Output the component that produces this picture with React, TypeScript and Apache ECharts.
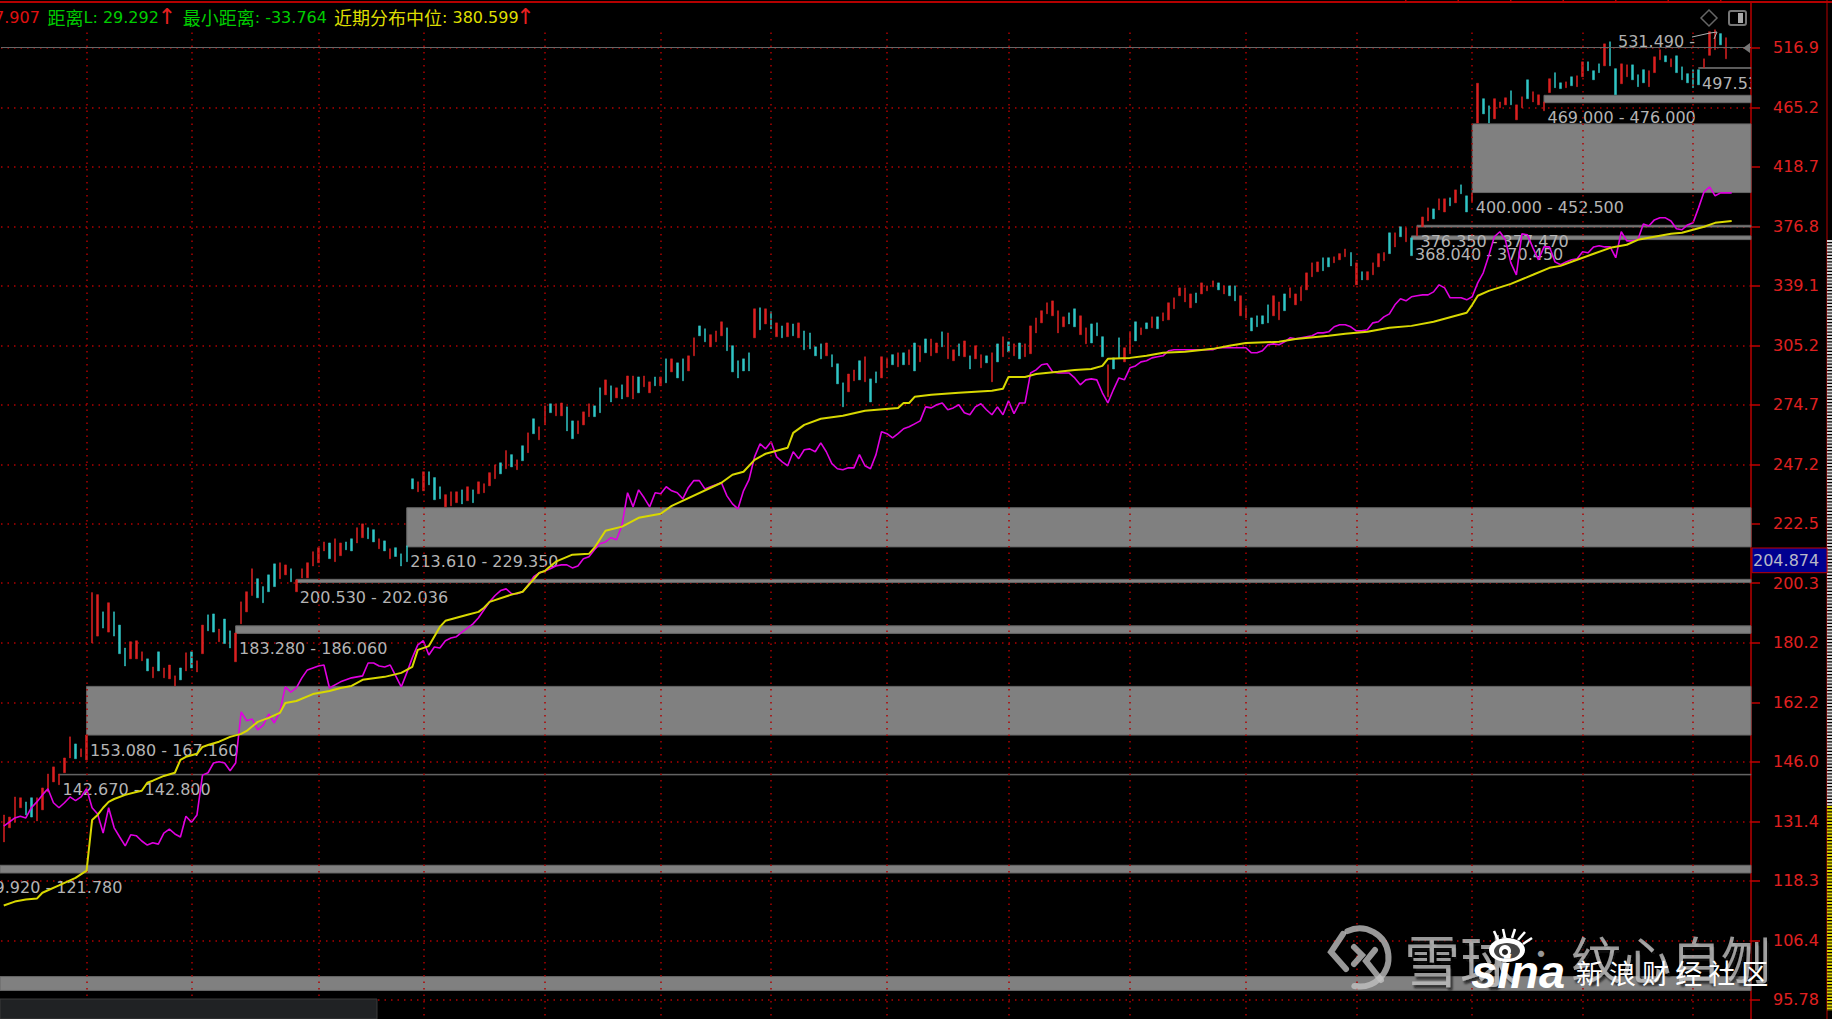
import React, { useEffect, useRef } from "react";
import * as echarts from "echarts";

const yTickLabels = ["516.9","465.2","418.7","376.8","339.1","305.2","274.7","247.2","222.5","200.3","180.2","162.2","146.0","131.4","118.3","106.4","95.78"];
const yTickValues = yTickLabels.map(Number);
const verticalGridIndexes = [15,34,57,76,98,119,139,160,182,204,225,245,266,286,306];
const categories = Array.from({ length: 317 }, (_, i) => String(i));

const candleHigh = [
132.9,132.4,137.2,137.0,136.0,137.0,137.0,139.4,142.9,144.7,
142.9,147.0,152.6,150.7,149.4,153.1,197.0,196.3,190.4,193.5,
190.4,186.0,178.6,180.6,180.9,177.4,175.2,172.7,177.4,172.4,
173.3,170.0,172.4,177.1,177.4,174.6,186.0,189.4,189.7,184.7,
188.0,184.1,183.4,193.8,197.3,205.5,201.9,199.1,203.3,207.3,
207.7,206.9,205.5,201.5,205.5,207.7,211.8,213.3,215.5,215.1,
216.7,215.1,215.5,216.7,221.0,222.5,221.0,220.2,216.7,215.9,
212.9,213.3,211.0,214.0,241.0,239.7,244.0,244.0,241.5,237.6,
234.3,235.5,235.5,236.3,237.6,236.3,239.7,238.9,243.6,247.0,
247.9,253.3,251.5,249.2,255.5,261.4,268.0,264.2,274.2,275.2,
275.2,275.6,273.7,267.0,267.0,271.3,275.2,274.2,283.1,287.1,
284.1,283.1,284.6,289.1,289.1,288.6,289.1,286.1,288.6,288.6,
298.0,298.0,295.9,298.0,299.6,309.3,315.9,314.3,311.0,313.1,
318.2,314.8,305.0,297.0,298.0,301.2,325.6,326.2,325.6,323.9,
317.6,315.9,317.6,317.0,317.6,313.1,312.0,304.4,306.0,306.5,
300.2,295.4,285.6,290.1,292.2,297.0,299.1,287.6,291.2,299.1,
298.0,300.2,301.2,301.2,302.8,306.5,305.0,308.7,308.7,306.5,
312.6,312.0,302.8,306.0,307.6,299.6,305.0,300.2,299.6,301.2,
306.0,309.9,307.1,306.0,306.5,306.0,315.9,320.4,324.5,329.1,
330.2,324.5,321.0,323.3,325.6,321.6,314.8,317.0,317.6,309.9,
294.9,298.5,309.3,303.9,312.6,318.2,314.8,317.6,321.0,321.0,
323.3,329.1,332.0,337.9,337.9,334.3,334.9,340.9,339.1,342.1,
340.9,339.1,339.1,339.1,333.2,326.2,320.4,321.6,321.6,327.9,
333.2,329.6,334.3,337.9,334.3,338.5,347.0,353.2,353.8,356.4,
356.4,357.0,359.0,362.0,359.7,353.2,347.7,347.7,353.2,359.0,
359.7,372.5,372.5,376.5,375.8,369.2,376.5,383.1,389.3,388.6,
395.6,395.6,396.3,401.9,405.5,397.7,399.8,485.4,472.3,466.4,
472.3,469.6,473.1,479.0,467.2,473.9,488.4,478.2,475.6,469.6,
489.3,494.6,485.8,486.6,491.0,491.9,504.2,504.2,496.3,502.4,
520.5,522.4,498.1,502.4,501.5,501.5,492.8,497.2,496.3,508.7,
515.1,509.6,506.9,509.6,499.7,493.7,497.2,497.2,506.9,531.8,
533.6,530.0,526.2,517.2];

const candleLow = [
126.7,129.9,131.2,134.6,132.9,132.4,131.5,134.1,138.4,140.9,
140.2,143.2,147.0,146.8,147.3,146.5,180.2,182.4,185.0,183.7,
182.4,176.8,173.0,175.2,175.2,174.6,171.5,169.4,171.5,169.4,
169.1,167.0,168.8,171.5,172.4,171.2,176.8,184.1,183.7,180.6,
180.0,178.6,174.3,186.4,190.4,196.0,195.2,193.5,197.3,199.1,
201.9,203.3,200.8,197.3,202.2,202.2,206.5,207.7,212.1,209.2,
208.1,210.3,212.5,212.1,215.1,217.1,216.7,215.5,212.9,212.1,
209.2,210.0,206.5,208.1,236.7,235.5,235.9,238.4,232.2,232.6,
229.3,229.7,231.0,230.5,231.8,231.0,234.7,235.1,238.0,241.0,
243.1,245.3,246.1,244.9,248.8,252.4,261.0,258.2,265.1,270.9,
269.4,269.4,262.3,258.7,261.0,265.1,269.0,269.0,270.9,279.6,
276.1,278.1,277.6,278.6,277.6,280.6,283.6,280.6,284.1,284.1,
285.6,291.2,288.1,286.6,291.7,299.6,310.4,307.1,304.4,307.1,
310.4,302.3,291.2,288.1,291.7,291.7,309.3,313.7,317.0,314.3,
309.9,309.3,309.9,310.4,309.3,302.8,303.3,299.6,298.0,299.6,
293.8,285.1,273.7,281.1,286.6,287.1,286.1,276.1,285.6,288.1,
293.3,294.9,293.8,294.9,294.9,291.7,296.4,301.2,299.6,301.2,
304.4,298.0,297.0,299.6,299.1,292.7,298.0,293.3,295.9,286.1,
296.4,299.1,301.7,299.6,298.0,299.1,300.7,312.0,317.6,322.7,
321.6,312.0,315.4,317.0,315.4,311.0,306.0,306.5,310.4,299.1,
278.6,292.7,298.5,296.4,300.7,307.6,311.0,314.3,314.8,314.3,
318.7,319.3,325.6,333.2,329.6,326.2,329.1,334.3,336.1,338.5,
336.7,334.3,333.2,330.2,321.6,320.4,313.1,315.4,317.0,317.6,
321.6,319.3,324.5,332.0,327.9,330.2,336.7,344.6,347.7,348.3,
350.7,353.2,355.1,357.0,351.3,339.7,342.7,342.7,345.8,350.7,
354.5,359.0,363.3,369.9,366.6,357.7,370.5,376.5,380.4,381.8,
387.9,386.5,390.7,392.8,399.1,386.5,393.5,452.4,459.8,452.4,
455.8,464.8,467.2,467.2,455.0,464.8,472.3,469.6,467.2,462.3,
477.4,481.6,480.8,481.6,483.3,482.5,491.0,496.3,488.4,494.6,
500.6,500.6,475.6,485.0,491.0,488.4,482.5,485.8,482.5,494.6,
506.0,504.2,499.7,494.6,488.4,485.8,481.6,484.1,499.0,510.0,
515.1,519.6,506.9,516.6];

const candleDirection = [
"rrrrccrrrr","rrrcrrrrcr","cccrrrcrcr","rrcrcrrccr",
"ccrrrrcccc","rrcrrrrrrc","rrccrrccrc","rccccrrccc",
"rrrcrcrrrr","crcrcrcrrc","rrccrrrccr","crcrrcrrcr",
"crccrrccrr","rcccccrcrc","rcrcrccccr","cccrrcrccr",
"rcrcrcrcrr","crrcrcrrcr","crcrcrrrrr","rrrccrrccc",
"rccrrcrcrc","rrrrrrcrrr","crccrrcccc","rrcrrrrrrc",
"crrrcrcrrr","rcrcrcrrrc","rrcrccrrcc","rrrcrrcrrr",
"rccrcrrccc","rccrrcccrr","rcrcccccrr","rcrc",
];

const magentaLine = [
130.3,131.2,132.2,132.6,132.2,134.6,136.0,137.7,139.2,135.8,
134.6,135.8,137.2,136.3,137.2,139.2,134.6,133.1,128.7,134.6,
129.9,127.8,125.8,128.3,128.1,126.9,126.0,126.5,126.2,128.7,
129.6,128.5,127.8,132.6,131.2,132.9,142.6,143.2,145.7,146.0,
145.7,143.7,145.7,159.5,157.0,157.5,154.5,155.8,158.9,156.4,
159.5,166.7,165.2,166.4,169.4,171.8,172.4,173.0,173.3,166.4,
167.3,168.2,168.8,169.4,169.7,170.0,173.9,173.9,173.0,172.7,
173.3,170.0,166.7,170.9,175.5,179.6,180.9,176.4,178.9,178.6,
180.9,181.8,182.2,183.7,185.0,186.4,188.4,191.1,193.8,196.0,
197.7,198.3,196.6,196.6,197.3,199.7,202.6,204.0,204.7,205.5,
206.5,206.9,206.9,205.8,206.5,209.2,209.9,212.5,214.8,215.5,
217.1,216.3,222.1,235.1,229.3,236.3,233.0,229.3,235.1,234.7,
237.6,235.9,235.1,232.6,237.2,240.2,240.2,236.7,237.6,238.4,
239.3,233.8,230.5,228.5,235.9,240.6,250.5,256.4,254.1,257.3,
250.5,248.3,246.6,252.8,249.7,253.7,254.1,252.8,256.8,252.8,
247.5,245.3,244.9,245.7,245.7,251.5,246.6,245.3,251.5,261.9,
261.0,259.1,261.0,263.3,264.2,265.6,267.0,273.7,273.2,274.7,
275.6,272.3,273.2,274.7,270.9,269.9,273.7,275.2,272.3,269.9,
273.7,269.9,276.6,270.4,275.6,275.6,290.6,292.2,294.9,295.4,
291.2,290.6,290.6,290.6,288.1,284.6,287.1,287.6,287.1,280.6,
275.6,282.1,288.1,287.1,293.3,294.3,296.4,297.0,298.5,299.1,
299.6,302.3,302.8,302.8,302.8,302.8,302.8,302.8,302.8,302.8,
303.9,303.9,303.9,303.9,303.9,303.9,301.2,301.2,302.3,305.5,
306.0,305.5,307.1,309.3,308.7,309.3,309.9,310.4,312.0,312.0,
312.6,315.4,316.5,316.5,315.4,313.1,313.1,313.7,317.6,318.2,
321.0,322.7,327.9,331.4,330.2,332.6,333.2,333.7,333.7,335.5,
339.7,337.9,332.0,332.0,332.0,330.8,332.6,340.9,347.0,357.6,
369.9,373.2,367.9,353.2,345.8,371.8,371.2,362.7,355.1,363.3,
363.3,353.8,352.0,353.8,355.1,355.7,360.2,359.6,363.3,364.0,
363.3,363.3,356.4,373.2,367.2,367.2,367.9,378.4,377.0,381.1,
382.5,382.5,380.4,375.2,374.5,377.7,379.1,389.3,400.5,404.1,
397.7,399.8,399.8,399.8];

const yellowIndex = [0,2,4,6,7,10,13,15,16,17,18,19,20,22,24,25,26,27,29,31,32,33,35,36,37,39,41,43,44,46,48,50,51,53,56,59,61,63,65,69,72,74,75,77,79,80,82,84,86,87,88,92,94,97,98,100,103,106,107,109,112,115,119,121,130,132,134,136,138,142,143,145,148,152,156,162,163,164,165,168,173,179,181,182,185,187,191,194,197,199,200,204,207,210,214,219,222,225,231,234,240,243,247,251,255,259,263,265,266,267,269,273,277,280,282,285,288,291,294,296,299,302,304,308,310,313];
const yellowValue = [113.2,114.0,114.4,114.6,115.8,117.3,118.9,120.4,131.7,132.9,134.6,136.0,136.7,137.7,138.4,138.7,140.7,141.2,142.4,143.2,146.5,147.3,148.1,149.9,150.4,151.3,152.6,153.4,154.2,156.7,157.8,159.2,162.0,162.6,164.6,165.5,166.4,167.0,168.8,169.7,170.9,172.7,178.0,179.2,185.4,187.4,188.4,189.4,190.4,191.8,193.8,196.3,197.3,204.0,204.7,208.1,210.7,211.0,213.3,219.8,221.4,224.9,226.5,229.7,239.3,242.7,244.0,249.2,251.9,254.6,261.4,265.1,268.0,269.4,271.8,273.2,275.6,275.6,278.6,279.6,280.6,281.6,282.6,288.6,288.6,290.1,291.2,292.2,292.7,294.3,298.0,298.5,299.6,301.2,301.7,303.3,305.0,306.5,307.1,308.7,310.4,311.5,312.6,314.8,315.9,318.2,321.6,323.3,327.9,333.2,336.1,340.3,345.8,350.1,351.3,355.1,358.9,362.7,364.7,367.9,369.9,371.8,372.5,376.5,379.1,380.4];

const zoneStart = [-6,10,15,42,53,73,255,256,266,279,307,-1];
const zoneLow = [119.92,142.67,153.08,183.28,200.53,213.61,368.04,376.35,400,469,498.4,97.4];
const zoneHigh = [121.78,142.8,167.16,186.06,202.036,229.35,370.45,377.47,452.5,476,499,100];
const zoneLabel = ["119.920 - 121.780","142.670 - 142.800","153.080 - 167.160","183.280 - 186.060","200.530 - 202.036","213.610 - 229.350","368.040 - 370.450","376.350 - 377.470","400.000 - 452.500","469.000 - 476.000","497.53",""];
const lastPrice = 516.9;

const MONO = "DejaVu Sans";
const CJK = "Noto Sans CJK SC";

function legendItem(x: number, parts: string, color: string) {
  return {
    type: "text", x, y: 17, z: 60,
    style: {
      text: parts, verticalAlign: "middle", fill: color,
      font: `16px "${MONO}"`,
      rich: {
        c: { fontFamily: CJK, fontSize: 18, fill: color, color },
        d: { fontFamily: MONO, fontSize: 16, fill: color, color },
      },
    },
  };
}

function buildGraphics() {
  const wm = "rgba(195,195,195,0.78)";
  return [
    legendItem(-6, "{d|7.907}", "#e01010"),
    legendItem(47.5, "{c|距离}{d|L: 29.292}", "#00cc00"),
    legendItem(182.7, "{c|最小距离}{d|: -33.764}", "#00cc00"),
    legendItem(334, "{c|近期分布中位}{d|: 380.599}", "#dede00"),
    { type: "text", x: 167, y: 16, z: 60, style: { text: "↑", align: "center", verticalAlign: "middle", fill: "#e82020", font: `22px "${MONO}"` } },
    { type: "text", x: 525.5, y: 16, z: 60, style: { text: "↑", align: "center", verticalAlign: "middle", fill: "#e82020", font: `22px "${MONO}"` } },
    // frame
    { type: "line", z: 50, shape: { x1: 0, y1: 2, x2: 1832, y2: 2 }, style: { stroke: "#b40000", lineWidth: 2 } },
    { type: "line", z: 50, shape: { x1: 1405, y1: 1, x2: 1751, y2: 1 }, style: { stroke: "#b40000", lineWidth: 2, lineDash: [1.5, 51] } },
    { type: "line", z: 50, shape: { x1: 1827, y1: 0, x2: 1827, y2: 1019 }, style: { stroke: "#b40000", lineWidth: 1 } },
    { type: "line", z: 50, shape: { x1: 1829.5, y1: 240, x2: 1829.5, y2: 806 }, style: { stroke: "#d4d4d4", lineWidth: 5, lineDash: [2, 1.2] } },
    { type: "line", z: 50, shape: { x1: 1829.5, y1: 806, x2: 1829.5, y2: 1011 }, style: { stroke: "#d8d000", lineWidth: 5, lineDash: [2, 1.2] } },
    // price flag
    { type: "rect", z: 55, shape: { x: 1752, y: 548, width: 75, height: 24.7 }, style: { fill: "#000090", stroke: "#c00000", lineWidth: 1 } },
    { type: "text", z: 56, x: 1753, y: 560.5, style: { text: "204.874", verticalAlign: "middle", fill: "#b8b8c8", font: `16px "${MONO}"` } },
    // icons
    { type: "polygon", z: 50, shape: { points: [[1709, 10], [1717, 18], [1709, 26], [1701, 18]] }, style: { fill: "none", stroke: "#666", lineWidth: 1.5 } },
    { type: "rect", z: 50, shape: { x: 1729, y: 11, width: 17, height: 14, r: 2 }, style: { fill: "none", stroke: "#777", lineWidth: 2 } },
    { type: "rect", z: 51, shape: { x: 1738, y: 13, width: 5, height: 10 }, style: { fill: "#aaa" } },
    { type: "polygon", z: 50, shape: { points: [[1750, 43], [1750, 53], [1743, 48]] }, style: { fill: "#777" } },
    // peak label
    { type: "text", z: 45, x: 1618, y: 41, style: { text: "531.490 -", verticalAlign: "middle", fill: "#b0b0b0", font: `16px "${MONO}"` } },
    { type: "polyline", z: 45, shape: { points: [[1692, 37], [1710, 33], [1717, 32], [1714, 39]] }, style: { fill: "none", stroke: "#b0b0b0", lineWidth: 1 } },
    // bottom-left panel
    { type: "rect", z: 50, shape: { x: 0, y: 999, width: 377, height: 20 }, style: { fill: "#202224", stroke: "#3a3a3a", lineWidth: 1 } },
    // watermark: xueqiu
    { type: "arc", z: 70, shape: { cx: 1359.5, cy: 957.5, r: 29, startAngle: -2.0, endAngle: 1.75, clockwise: true }, style: { fill: "none", stroke: wm, lineWidth: 6, lineCap: "round" } },
    { type: "polyline", z: 70, shape: { points: [[1343, 934], [1331, 952], [1346, 969]] }, style: { fill: "none", stroke: wm, lineWidth: 6, lineCap: "round" } },
    { type: "polyline", z: 70, shape: { points: [[1354, 947], [1362, 955], [1354, 964]] }, style: { fill: "none", stroke: wm, lineWidth: 6, lineCap: "round" } },
    { type: "polyline", z: 70, shape: { points: [[1375, 950], [1366, 961], [1381, 980]] }, style: { fill: "none", stroke: wm, lineWidth: 6, lineCap: "round" } },
    { type: "text", z: 70, x: 1404, y: 957, style: { text: "雪球", verticalAlign: "middle", fill: wm, font: `56px "${CJK}"`, textShadowColor: "#111", textShadowBlur: 2, textShadowOffsetX: 2, textShadowOffsetY: 3 } },
    { type: "text", z: 70, x: 1541, y: 952, style: { text: "·", align: "center", verticalAlign: "middle", fill: wm, font: `30px "${CJK}"` } },
    { type: "text", z: 70, x: 1571, y: 957, style: { text: "纹心自刎", verticalAlign: "middle", fill: wm, font: `50px "${CJK}"`, textShadowColor: "#111", textShadowBlur: 2, textShadowOffsetX: 2, textShadowOffsetY: 3 } },
    // watermark: sina
    { type: "ellipse", z: 72, shape: { cx: 1507, cy: 950, rx: 18, ry: 12 }, style: { fill: "#fff" } },
    { type: "ellipse", z: 73, shape: { cx: 1507, cy: 951, rx: 13, ry: 8 }, style: { fill: "#444" } },
    { type: "circle", z: 74, shape: { cx: 1505, cy: 951, r: 6 }, style: { fill: "#fff" } },
    { type: "circle", z: 75, shape: { cx: 1505, cy: 952, r: 3 }, style: { fill: "#222" } },
    { type: "line", z: 72, shape: { x1: 1498, y1: 940, x2: 1494, y2: 931 }, style: { stroke: "#fff", lineWidth: 2.5 } },
    { type: "line", z: 72, shape: { x1: 1505, y1: 938, x2: 1503, y2: 929 }, style: { stroke: "#fff", lineWidth: 2.5 } },
    { type: "line", z: 72, shape: { x1: 1512, y1: 938, x2: 1515, y2: 929 }, style: { stroke: "#fff", lineWidth: 2.5 } },
    { type: "line", z: 72, shape: { x1: 1518, y1: 940, x2: 1525, y2: 932 }, style: { stroke: "#fff", lineWidth: 2.5 } },
    { type: "line", z: 72, shape: { x1: 1523, y1: 944, x2: 1532, y2: 938 }, style: { stroke: "#fff", lineWidth: 2.5 } },
    { type: "text", z: 74, x: 1471, y: 971, style: { text: "sina", verticalAlign: "middle", fill: "#fff", font: `italic bold 47px "Liberation Sans"` } },
    { type: "text", z: 74, x: 1576, y: 972, style: { text: "新 浪 财 经 社 区", verticalAlign: "middle", fill: "#fff", font: `27px "${CJK}"` } },
  ];
}

function renderZone(params: any, api: any) {
  const i = params.dataIndex;
  const grid = params.coordSys;
  const right = grid.x + grid.width;
  const topLeft = api.coord([zoneStart[i], zoneHigh[i]]);
  const bottom = api.coord([zoneStart[i], zoneLow[i]])[1];
  const left = Math.max(topLeft[0], 0);
  const tall = bottom - topLeft[1] > 4;
  const top = tall ? topLeft[1] + 1 : topLeft[1];
  const children: any[] = [
    {
      type: "rect",
      shape: { x: left, y: top, width: right - left, height: bottom - top },
      style: { fill: "#808080", stroke: "#666", lineWidth: 1 },
    },
  ];
  if (zoneLabel[i]) {
    children.push({
      type: "text",
      x: 0, y: 0,
      style: {
        text: zoneLabel[i], x: topLeft[0] + 3.5, y: bottom + 7,
        fill: "#b4b4b4", font: `16px "${MONO}"`, align: "left", verticalAlign: "top",
      },
      clipPath: { type: "rect", shape: { x: 0, y: 0, width: right, height: 1019 } },
    });
  }
  return { type: "group", children };
}

export default function App() {
  const ref = useRef<HTMLDivElement>(null);
  useEffect(() => {
    document.body.style.margin = "0";
    document.body.style.background = "#000";
    const chart = echarts.init(ref.current!, undefined, { renderer: "svg" });
    const direction = candleDirection.join("");
    const candles = candleHigh.map((h, i) => {
      const l = candleLow[i];
      return direction[i] === "r" ? [l, h, l, h] : [h, l, l, h];
    });
    const dotted = { color: "#b00000", width: 1.5, type: [1.5, 5] as number[] };
    chart.setOption({
      animation: false,
      backgroundColor: "#000",
      grid: { left: 1, right: 81, top: 2, bottom: 0, containLabel: false },
      xAxis: {
        type: "category", data: categories,
        axisLine: { show: false }, axisTick: { show: false }, axisLabel: { show: false }, splitLine: { show: false },
      },
      yAxis: {
        type: "log", logBase: 10, position: "right", min: 92.6, max: 560.5,
        axisLine: { show: true, lineStyle: { color: "#b80000", width: 1.5 } },
        axisTick: { show: true, length: 9, customValues: yTickValues, lineStyle: { color: "#c00000", width: 1.5 } },
        axisLabel: {
          show: true, margin: 22, color: "#e02020", fontFamily: MONO, fontSize: 16,
          padding: [3, 0, 0, 0],
          customValues: yTickValues,
          formatter: (v: number) => yTickLabels.find((l) => Math.abs(Number(l) - v) < 0.01) ?? String(v),
        },
        splitLine: { show: true, lineStyle: dotted },
        minorTick: { show: false }, minorSplitLine: { show: false },
      },
      graphic: { elements: buildGraphics() },
      series: [
        {
          type: "line", data: [], z: 1, silent: true, symbol: "none",
          markLine: {
            silent: true, symbol: ["none", "none"], label: { show: false }, animation: false,
            data: [
              ...verticalGridIndexes.map((i) => [
                { xAxis: i, yAxis: 531, lineStyle: dotted },
                { xAxis: i, yAxis: 92.6, lineStyle: dotted },
              ]),
            ],
          },
        },
        {
          type: "custom", z: 2, silent: true, clip: false, renderItem: renderZone,
          data: zoneStart.map((s, i) => [Math.max(s, 0), zoneLow[i], zoneHigh[i]]),
          encode: { x: 0, y: [1, 2] },
        },
        {
          type: "line", data: [], z: 2, silent: true, symbol: "none",
          markLine: {
            silent: true, symbol: ["none", "none"], label: { show: false }, animation: false,
            data: [{ yAxis: lastPrice, lineStyle: { color: "#666", width: 1, type: "solid" } }],
          },
        },
        {
          type: "candlestick", data: candles, barWidth: 2, z: 3, silent: true,
          itemStyle: { color: "#dc2020", color0: "#30c6c6", borderColor: "#dc2020", borderColor0: "#30c6c6", borderWidth: 0.5 },
        },
        { type: "line", data: magentaLine, z: 4, silent: true, symbol: "none", lineStyle: { color: "#e000e0", width: 1.6 } },
        {
          type: "line", data: yellowIndex.map((x, i) => [x, yellowValue[i]]), z: 5, silent: true, symbol: "none",
          lineStyle: { color: "#d8d800", width: 2 },
        },
      ],
    });
    return () => chart.dispose();
  }, []);
  return <div ref={ref} style={{ position: "fixed", left: 0, top: 0, width: 1832, height: 1019 }} />;
}
